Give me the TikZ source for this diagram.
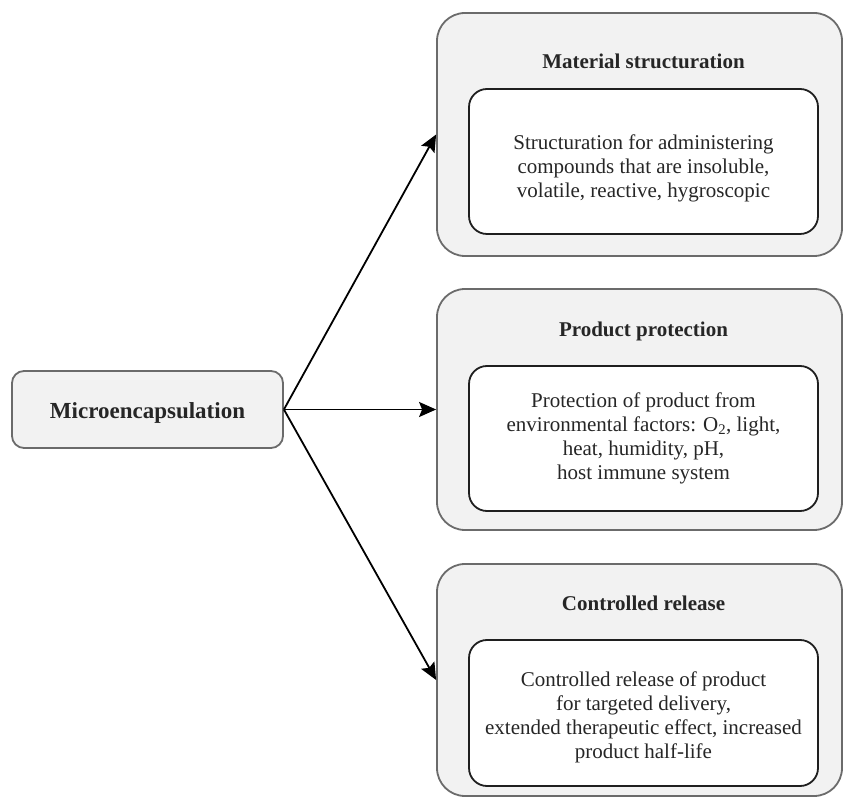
\documentclass[tikz,border=0pt]{standalone}
\usepackage{fontspec}
\setmainfont{Liberation Serif}
\usetikzlibrary{arrows.meta}
\begin{document}
\begin{tikzpicture}[x=1pt,y=1pt,
  outerbox/.style={draw=black!58, line width=1.8pt, fill=black!5, rounded corners=28pt,
    minimum width=405pt, inner sep=0pt},
  innerbox/.style={draw=black!88, line width=1.8pt, fill=white, rounded corners=18pt,
    minimum width=349pt, minimum height=145pt, inner sep=0pt},
  bodytext/.style={align=center, inner sep=0pt,
    font=\fontsize{21}{24}\selectfont, text=black!85},
  titletext/.style={font=\fontsize{21}{24}\selectfont\bfseries, text=black!85},
  rootbox/.style={draw=black!58, line width=1.8pt, fill=black!5, rounded corners=12pt,
    minimum width=271pt, minimum height=77pt, inner sep=0pt},
  roottext/.style={inner sep=0pt, font=\fontsize{23}{26}\selectfont\bfseries, text=black!85},
  link/.style={draw=black, line width=1.8pt, -{Stealth[length=17pt,width=15pt,inset=3pt]}}]
\useasboundingbox (0,0) rectangle (843,798);

% left source box
\node[rootbox] (micro) at (147.5,388.5) {};
\node[roottext] (microtext) at ([yshift=-3pt]micro.center) {Microencapsulation};

% material structuration
\node[outerbox, minimum height=243pt] (ms) at (639.5,663.5) {};
\node[titletext] (mstitle) at (643.5,737) {Material structuration};
\node[innerbox] (msframe) at (643.5,636.5) {};
\node[bodytext] (msbody) at ([yshift=-7pt]msframe.center)
  {Structuration for administering\\compounds that are insoluble,\\volatile, reactive, hygroscopic};

% product protection
\node[outerbox, minimum height=241pt] (pp) at (639.5,388.5) {};
\node[titletext] (pptitle) at (643.5,467) {Product protection};
\node[innerbox] (ppframe) at (643.5,359.5) {};
\node[bodytext] (ppbody) at ([yshift=0pt]ppframe.center)
  {Protection of product from\\environmental factors: O\textsubscript{2}, light,\\heat, humidity, pH,\\host immune system};

% controlled release
\node[outerbox, minimum height=232pt] (cr) at (639.5,118) {};
\node[titletext] (crtitle) at (643.5,195) {Controlled release};
\node[innerbox, minimum height=146pt] (crframe) at (643.5,85) {};
\node[bodytext] (crbody) at ([yshift=-4pt]crframe.center)
  {Controlled release of product\\for targeted delivery,\\extended therapeutic effect, increased\\product half-life};

% connectors
\draw[link] (micro.east) -- (ms.west);
\draw[link] (micro.east) -- (pp.west);
\draw[link] (micro.east) -- (cr.west);
\end{tikzpicture}
\end{document}
